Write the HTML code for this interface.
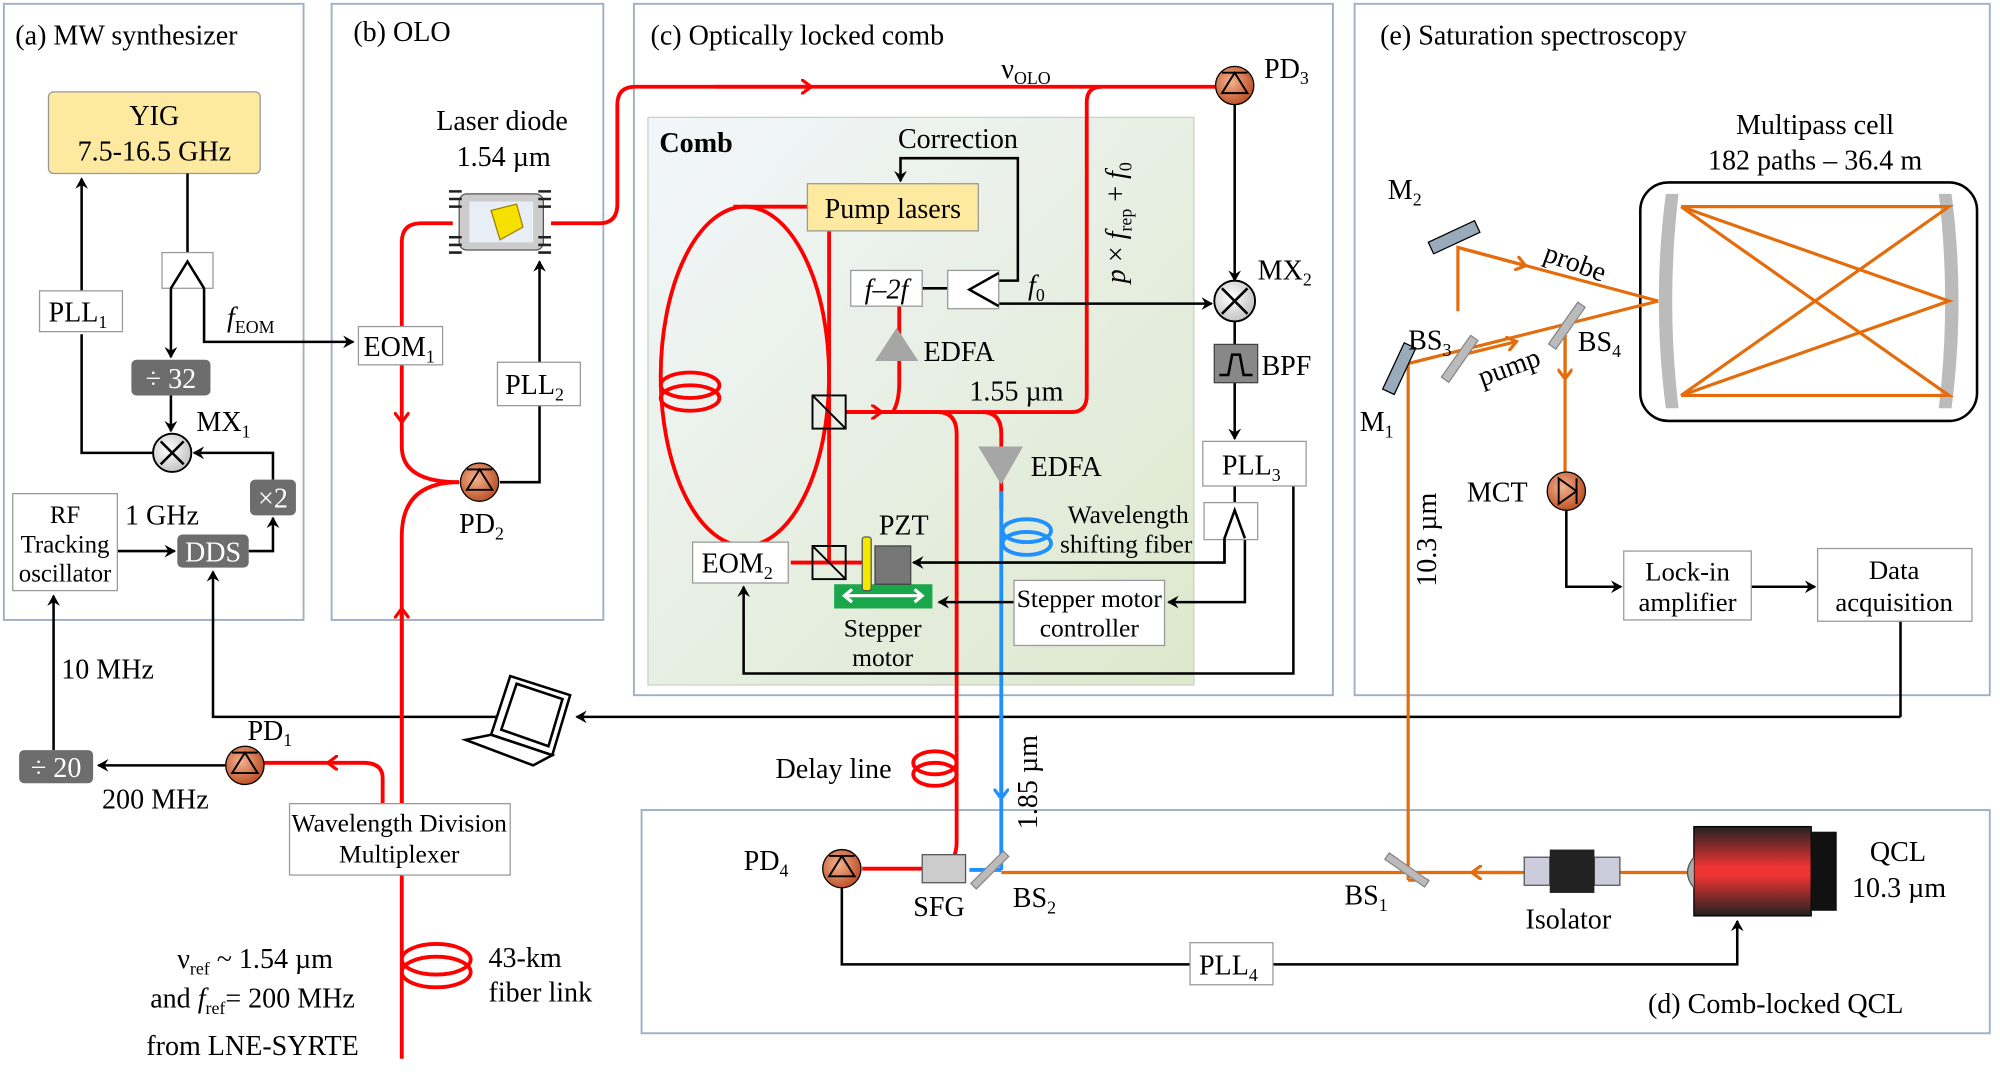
<!DOCTYPE html>
<html><head><meta charset="utf-8"><style>
html,body{margin:0;padding:0;background:#fff;}
svg{display:block;}
text{font-family:"Liberation Serif",serif;fill:#000;}
</style></head><body>
<svg width="2000" height="1083" viewBox="0 0 1568 849" preserveAspectRatio="none" xmlns="http://www.w3.org/2000/svg" font-size="22">
<defs>
<marker id="ab" markerWidth="10" markerHeight="10" refX="8" refY="5" orient="auto" markerUnits="userSpaceOnUse"><path d="M0,0 L9,5 L0,10 L3,5 z" fill="#000"/></marker>
<marker id="ar" markerWidth="14" markerHeight="12" refX="7" refY="6" orient="auto" markerUnits="userSpaceOnUse"><path d="M0,0 L8,6 L0,12" fill="none" stroke="#f00" stroke-width="2.5"/></marker>
<marker id="ao" markerWidth="14" markerHeight="12" refX="7" refY="6" orient="auto" markerUnits="userSpaceOnUse"><path d="M0,0 L8,6 L0,12" fill="none" stroke="#e46c0a" stroke-width="2.5"/></marker>
<marker id="abl" markerWidth="14" markerHeight="12" refX="7" refY="6" orient="auto" markerUnits="userSpaceOnUse"><path d="M0,0 L8,6 L0,12" fill="none" stroke="#1e90ff" stroke-width="2.5"/></marker>
<linearGradient id="cg" x1="0" y1="0" x2="1" y2="1"><stop offset="0" stop-color="#f2f6fb"/><stop offset="1" stop-color="#dde8cc"/></linearGradient>
<radialGradient id="pd" cx="0.4" cy="0.4" r="0.7"><stop offset="0" stop-color="#f3b38f"/><stop offset="1" stop-color="#b5441a"/></radialGradient>
<radialGradient id="mx" cx="0.4" cy="0.4" r="0.7"><stop offset="0" stop-color="#fff"/><stop offset="1" stop-color="#bbb"/></radialGradient>
<linearGradient id="qcl" x1="0" y1="0" x2="0" y2="1"><stop offset="0" stop-color="#222"/><stop offset="0.45" stop-color="#e33"/><stop offset="0.55" stop-color="#e33"/><stop offset="1" stop-color="#222"/></linearGradient>
</defs>

<g fill="none" stroke="#9fb0c6" stroke-width="1.5">
<rect x="3" y="3" width="235" height="483"/>
<rect x="260" y="3" width="213" height="483"/>
<rect x="497" y="3" width="548" height="542"/>
<rect x="1062" y="3" width="498" height="542"/>
<rect x="503" y="635" width="1057" height="175"/>
</g>
<rect x="508" y="92" width="428" height="445" fill="url(#cg)" stroke="#c8d4c0"/>

<text x="12" y="35">(a) MW synthesizer</text>
<text x="277" y="32">(b) OLO</text>
<text x="510" y="35">(c) Optically locked comb</text>
<text x="1082" y="35">(e) Saturation spectroscopy</text>
<text x="1292" y="794">(d) Comb-locked QCL</text>
<text x="517" y="119" style="font-weight:bold">Comb</text>

<!-- (a) -->
<rect x="38" y="72" width="166" height="64" rx="4" fill="#fde9a0" stroke="#999"/>
<text x="121" y="98" text-anchor="middle">YIG</text>
<text x="121" y="126" text-anchor="middle">7.5-16.5 GHz</text>
<g stroke="#000" stroke-width="2" fill="none">
<line x1="147" y1="136" x2="147" y2="200"/>
<rect x="127" y="198" width="40" height="28" fill="#fff" stroke="#999" stroke-width="1"/>
<path d="M134,226 L147,205 L160,226"/>
<line x1="134" y1="226" x2="134" y2="280" marker-end="url(#ab)"/>
<path d="M160,226 L160,268 L277,268" marker-end="url(#ab)"/>
<line x1="134" y1="310" x2="134" y2="338" marker-end="url(#ab)"/>
<path d="M120,355 L64,355 L64,262"/>
<line x1="64" y1="228" x2="64" y2="140" marker-end="url(#ab)"/>
<path d="M214,376 L214,355 L152,355" marker-end="url(#ab)"/>
<line x1="92" y1="432" x2="137" y2="432" marker-end="url(#ab)"/>
<path d="M195,432 L214,432 L214,406" marker-end="url(#ab)"/>
<line x1="42" y1="588" x2="42" y2="467" marker-end="url(#ab)"/>
<line x1="185" y1="600" x2="77" y2="600" marker-end="url(#ab)"/>
<path d="M420,562 L167,562 L167,448" marker-end="url(#ab)"/>
</g>
<rect x="31" y="228" width="65" height="32" fill="#fff" stroke="#999"/>
<text x="38" y="252">PLL<tspan font-size="14" dy="5">1</tspan></text>
<rect x="103" y="282" width="62" height="28" rx="4" fill="#6d6d6d"/>
<text x="134" y="304" text-anchor="middle" style="fill:#fff">÷ 32</text>
<circle cx="135" cy="355" r="15" fill="url(#mx)" stroke="#000" stroke-width="1.5"/>
<path d="M126,346 L144,364 M144,346 L126,364" stroke="#000" stroke-width="2"/>
<text x="154" y="338">MX<tspan font-size="14" dy="5">1</tspan></text>
<rect x="196" y="376" width="36" height="28" rx="4" fill="#6d6d6d"/>
<text x="214" y="398" text-anchor="middle" style="fill:#fff">×2</text>
<rect x="10" y="387" width="82" height="76" fill="#fff" stroke="#999"/>
<text x="51" y="410" text-anchor="middle" font-size="19.5">RF</text>
<text x="51" y="433" text-anchor="middle" font-size="19.5">Tracking</text>
<text x="51" y="456" text-anchor="middle" font-size="19.5">oscillator</text>
<rect x="139" y="419" width="56" height="26" rx="4" fill="#6d6d6d"/>
<text x="167" y="440" text-anchor="middle" style="fill:#fff">DDS</text>
<text x="98" y="411">1 GHz</text>
<text x="178" y="256" font-style="italic">f<tspan font-size="14" dy="5" font-style="normal">EOM</tspan></text>
<text x="48" y="532">10 MHz</text>
<rect x="15" y="588" width="58" height="26" rx="4" fill="#6d6d6d"/>
<text x="44" y="609" text-anchor="middle" style="fill:#fff">÷ 20</text>
<text x="80" y="634">200 MHz</text>

<!-- (b) -->
<g stroke="#f00" stroke-width="3" fill="none">
<line x1="315" y1="830" x2="315" y2="478" marker-end="url(#ar)"/>
<path d="M315,630 L315,420 Q315,378 360,378"/>
<path d="M355,175 L330,175 Q315,175 315,190 L315,330" marker-end="url(#ar)"/>
<path d="M315,330 L315,350 Q315,378 360,378"/>
<path d="M432,175 L470,175 Q484,175 484,160 L484,82 Q484,68 498,68 L960,68"/>
<line x1="560" y1="68" x2="635" y2="68" marker-end="url(#ar)"/>
<path d="M300,630 L300,610 Q300,598 285,598 L258,598" marker-end="url(#ar)"/>
<line x1="258" y1="598" x2="205" y2="598"/>
</g>
<g stroke="#000" stroke-width="2" fill="none">
<path d="M392,378 L423,378 L423,318"/>
<line x1="423" y1="284" x2="423" y2="205" marker-end="url(#ab)"/>
</g>
<rect x="281" y="256" width="66" height="30" fill="#fff" stroke="#999"/>
<text x="285" y="279">EOM<tspan font-size="14" dy="5">1</tspan></text>
<rect x="390" y="284" width="65" height="34" fill="#fff" stroke="#999"/>
<text x="396" y="309">PLL<tspan font-size="14" dy="5">2</tspan></text>
<text x="342" y="102">Laser diode</text>
<text x="358" y="130">1.54 µm</text>
<rect x="360" y="152" width="66" height="44" rx="6" fill="#ccc" stroke="#555"/>
<rect x="368" y="158" width="50" height="32" fill="#e8eef5"/>
<polygon points="385,165 405,160 410,178 392,188" fill="#f5e000" stroke="#a08000"/>
<g stroke="#222" stroke-width="2">
<path d="M352,150h10M352,156h10M352,162h10M422,150h10M422,156h10M422,162h10M352,186h10M352,192h10M352,198h10M422,186h10M422,192h10M422,198h10"/>
</g>
<circle cx="376" cy="378" r="15" fill="url(#pd)" stroke="#000"/>
<path d="M366,384 L376,368 L386,384 Z M366,368 L386,368" stroke="#000" fill="none" stroke-width="1.5"/>
<text x="360" y="418">PD<tspan font-size="14" dy="5">2</tspan></text>

<circle cx="192" cy="600" r="15" fill="url(#pd)" stroke="#000"/>
<path d="M182,606 L192,590 L202,606 Z M182,590 L202,590" stroke="#000" fill="none" stroke-width="1.5"/>
<text x="194" y="580">PD<tspan font-size="14" dy="5">1</tspan></text>
<rect x="227" y="630" width="173" height="56" fill="#fff" stroke="#999"/>
<text x="313" y="652" text-anchor="middle" font-size="20">Wavelength Division</text>
<text x="313" y="676" text-anchor="middle" font-size="20">Multiplexer</text>
<g fill="none" stroke="#f00" stroke-width="3">
<ellipse cx="342" cy="752" rx="27" ry="12"/><ellipse cx="342" cy="762" rx="27" ry="12"/>
</g>
<text x="383" y="758">43-km</text>
<text x="383" y="785">fiber link</text>
<text x="200" y="759" text-anchor="middle">ν<tspan font-size="14" dy="5">ref</tspan><tspan dy="-5"> ~ 1.54 µm</tspan></text>
<text x="198" y="790" text-anchor="middle">and <tspan font-style="italic">f</tspan><tspan font-size="14" dy="5">ref</tspan><tspan dy="-5">= 200 MHz</tspan></text>
<text x="198" y="827" text-anchor="middle">from LNE-SYRTE</text>

<!-- laptop -->
<g stroke="#000" stroke-width="2" fill="#fff">
<polygon points="400,530 447,545 433,592 385,576"/>
<polygon points="405,536 441,548 430,585 393,572"/>
<polygon points="385,576 433,592 418,600 365,580"/>
</g>
<line x1="1490" y1="487" x2="1490" y2="562" stroke="#000" stroke-width="2"/>
<line x1="1490" y1="562" x2="452" y2="562" stroke="#000" stroke-width="2" marker-end="url(#ab)"/>

<!-- (c) -->
<text x="785" y="61">ν<tspan font-size="14" dy="5">OLO</tspan></text>
<g stroke="#f00" stroke-width="3" fill="none">
<path d="M633,162 L575,162"/>
<ellipse cx="584" cy="295" rx="66" ry="133"/>
<path d="M650,160 L650,440 M620,441 L680,441"/>
<path d="M663,323 L735,323 Q750,323 750,340 L750,590"/>
<path d="M750,590 L750,660 Q750,681 730,681 L676,681"/>
<path d="M700,323 Q705,315 705,300 L705,240"/>
<path d="M663,323 L840,323 Q852,323 852,310 L852,80 Q852,68 864,68"/>
<path d="M770,323 Q785,323 785,340 L785,400"/>
<line x1="664" y1="323" x2="690" y2="323" marker-end="url(#ar)"/>
</g>
<g fill="none" stroke="#f00" stroke-width="3">
<ellipse cx="541" cy="302" rx="23" ry="10"/><ellipse cx="541" cy="312" rx="23" ry="10"/>
<ellipse cx="733" cy="598" rx="17" ry="9"/><ellipse cx="733" cy="607" rx="17" ry="9"/>
</g>
<g stroke="#1e90ff" stroke-width="3" fill="none">
<line x1="785" y1="385" x2="785" y2="682"/>
<ellipse cx="805" cy="416" rx="19" ry="9"/><ellipse cx="805" cy="426" rx="19" ry="9"/>
<line x1="785" y1="560" x2="785" y2="625" marker-end="url(#abl)"/>
<line x1="760" y1="682" x2="785" y2="682"/>
</g>
<rect x="633" y="144" width="134" height="37" fill="#fde9a0" stroke="#999"/>
<text x="700" y="171" text-anchor="middle">Pump lasers</text>
<text x="704" y="116">Correction</text>
<g stroke="#000" stroke-width="2" fill="none">
<path d="M783,220 L798,220 L798,124 L706,124 L706,142" marker-end="url(#ab)"/>
<line x1="723" y1="226" x2="757" y2="226"/>
<line x1="783" y1="238" x2="950" y2="238" marker-end="url(#ab)"/>
<line x1="968" y1="82" x2="968" y2="220" marker-end="url(#ab)"/>
<line x1="968" y1="252" x2="968" y2="270"/>
<line x1="968" y1="300" x2="968" y2="344" marker-end="url(#ab)"/>
<path d="M968,381 L968,395"/>
<path d="M960,422 L960,441 L716,441" marker-end="url(#ab)"/>
<path d="M976,422 L976,472 L916,472" marker-end="url(#ab)"/>
<path d="M795,472 L736,472" marker-end="url(#ab)"/>
<path d="M1014,381 L1014,528 L583,528 L583,460" marker-end="url(#ab)"/>
</g>
<rect x="743" y="212" width="40" height="30" fill="#fff" stroke="#999"/>
<path d="M783,214 L760,227 L783,240" stroke="#000" stroke-width="2" fill="none"/>
<rect x="667" y="212" width="56" height="28" fill="#fff" stroke="#999"/>
<text x="695" y="234" text-anchor="middle" font-style="italic">f–2f</text>
<text x="806" y="231" font-style="italic">f<tspan font-size="14" dy="5" font-style="normal">0</tspan></text>
<polygon points="686,283 703,257 720,283" fill="#a6a6a6"/>
<text x="724" y="283">EDFA</text>
<text x="760" y="314">1.55 µm</text>
<polygon points="767,350 802,350 785,380" fill="#a6a6a6"/>
<text x="808" y="373">EDFA</text>
<text x="882" y="222" transform="rotate(-90 882 222)" font-style="italic">p<tspan font-style="normal"> × </tspan>f<tspan font-size="14" dy="5" font-style="normal">rep</tspan><tspan dy="-5" font-style="normal"> + </tspan>f<tspan font-size="14" dy="5" font-style="normal">0</tspan></text>
<rect x="637" y="310" width="26" height="26" fill="none" stroke="#000" stroke-width="1.5"/>
<line x1="637" y1="310" x2="663" y2="336" stroke="#000" stroke-width="1.5"/>
<rect x="637" y="428" width="26" height="26" fill="none" stroke="#000" stroke-width="1.5"/>
<line x1="637" y1="428" x2="663" y2="454" stroke="#000" stroke-width="1.5"/>
<rect x="543" y="425" width="75" height="32" fill="#fff" stroke="#999"/>
<text x="550" y="449">EOM<tspan font-size="14" dy="5">2</tspan></text>
<rect x="654" y="458" width="77" height="19" fill="#1aa64a"/>
<path d="M664,467 L721,467 M668,462 L662,467 L668,472 M717,462 L723,467 L717,472" stroke="#fff" stroke-width="2.5" fill="none"/>
<rect x="686" y="428" width="28" height="30" fill="#777" stroke="#444"/>
<rect x="676" y="421" width="7" height="42" rx="2" fill="#f5e800" stroke="#555"/>
<text x="689" y="419">PZT</text>
<text x="692" y="499" text-anchor="middle" font-size="20">Stepper</text>
<text x="692" y="522" text-anchor="middle" font-size="20">motor</text>
<text x="837" y="410" font-size="20">Wavelength</text>
<text x="831" y="433" font-size="20">shifting fiber</text>
<rect x="795" y="455" width="118" height="51" fill="#fff" stroke="#999"/>
<text x="854" y="476" text-anchor="middle" font-size="20">Stepper motor</text>
<text x="854" y="499" text-anchor="middle" font-size="20">controller</text>
<circle cx="968" cy="67" r="15" fill="url(#pd)" stroke="#000"/>
<path d="M958,73 L968,57 L978,73 Z M958,57 L978,57" stroke="#000" fill="none" stroke-width="1.5"/>
<text x="991" y="61">PD<tspan font-size="14" dy="5">3</tspan></text>
<circle cx="968" cy="236" r="16" fill="url(#mx)" stroke="#000" stroke-width="1.5"/>
<path d="M958,226 L978,246 M978,226 L958,246" stroke="#000" stroke-width="2"/>
<text x="986" y="219">MX<tspan font-size="14" dy="5">2</tspan></text>
<rect x="952" y="270" width="34" height="30" fill="#888" stroke="#444"/>
<path d="M956,294 L963,294 L966,278 L972,278 L975,294 L982,294" stroke="#000" fill="none" stroke-width="2"/>
<text x="989" y="294">BPF</text>
<rect x="943" y="346" width="81" height="35" fill="#fff" stroke="#999"/>
<text x="958" y="372">PLL<tspan font-size="14" dy="5">3</tspan></text>
<rect x="944" y="394" width="42" height="29" fill="#fff" stroke="#999"/>
<path d="M960,441 L960,422 L968,400 L976,422" stroke="#000" stroke-width="2" fill="none"/>
<text x="608" y="610">Delay line</text>

<!-- (e) -->
<rect x="1286" y="143" width="264" height="187" rx="22" fill="none" stroke="#000" stroke-width="2"/>
<path d="M1306,152 Q1295,236 1306,320 L1316,320 Q1306,236 1316,152 Z" fill="#bbb"/>
<path d="M1530,152 Q1541,236 1530,320 L1520,320 Q1530,236 1520,152 Z" fill="#bbb"/>
<text x="1423" y="105" text-anchor="middle">Multipass cell</text>
<text x="1423" y="133" text-anchor="middle">182 paths – 36.4 m</text>
<g stroke="#e46c0a" stroke-width="2.5" fill="none">
<path d="M1318,162 L1528,236 L1318,310 L1528,162 L1318,162 M1318,310 L1528,310 L1318,162"/>
<path d="M1104,690 L1120,690"/>
<path d="M1104,690 L1104,285 L1300,236"/>
<path d="M1143,244 L1143,194 L1300,236"/>
<line x1="1143" y1="194" x2="1195" y2="208" marker-end="url(#ao)"/>
<line x1="1143" y1="279" x2="1188" y2="268" marker-end="url(#ao)"/>
<line x1="1227" y1="255" x2="1227" y2="370"/>
<line x1="1227" y1="260" x2="1227" y2="296" marker-end="url(#ao)"/>
<line x1="1325" y1="684" x2="1270" y2="684"/>
<line x1="1195" y1="684" x2="785" y2="684"/>
<line x1="1190" y1="684" x2="1155" y2="684" marker-end="url(#ao)"/>
</g>
<rect x="1120" y="181" width="40" height="10" fill="#9ab" stroke="#000" transform="rotate(-25 1140 186)"/>
<rect x="1077" y="284" width="40" height="10" fill="#9ab" stroke="#000" transform="rotate(-65 1097 289)"/>
<rect x="1124" y="278" width="40" height="7" fill="#bbb" stroke="#888" transform="rotate(-55 1144 281)"/>
<rect x="1208" y="252" width="40" height="7" fill="#bbb" stroke="#888" transform="rotate(-55 1228 255)"/>
<text x="1088" y="156">M<tspan font-size="14" dy="5">2</tspan></text>
<text x="1066" y="338">M<tspan font-size="14" dy="5">1</tspan></text>
<text x="1104" y="274">BS<tspan font-size="14" dy="5">3</tspan></text>
<text x="1237" y="275">BS<tspan font-size="14" dy="5">4</tspan></text>
<text x="1209" y="204" transform="rotate(20 1209 204)">probe</text>
<text x="1162" y="303" transform="rotate(-20 1162 303)">pump</text>
<text x="1126" y="460" transform="rotate(-90 1126 460)">10.3 µm</text>
<circle cx="1228" cy="385" r="15" fill="url(#pd)" stroke="#000"/>
<path d="M1222,375 L1236,385 L1222,395 Z M1236,375 L1236,395" stroke="#000" fill="none" stroke-width="1.5"/>
<text x="1150" y="393">MCT</text>
<g stroke="#000" stroke-width="2" fill="none">
<path d="M1228,400 L1228,460 L1271,460" marker-end="url(#ab)"/>
<line x1="1373" y1="460" x2="1423" y2="460" marker-end="url(#ab)"/>
</g>
<rect x="1273" y="432" width="100" height="54" fill="#fff" stroke="#999"/>
<text x="1323" y="455" text-anchor="middle" font-size="21">Lock-in</text>
<text x="1323" y="479" text-anchor="middle" font-size="21">amplifier</text>
<rect x="1425" y="430" width="121" height="57" fill="#fff" stroke="#999"/>
<text x="1485" y="454" text-anchor="middle" font-size="21">Data</text>
<text x="1485" y="479" text-anchor="middle" font-size="21">acquisition</text>

<!-- (d) -->
<circle cx="660" cy="681" r="15" fill="url(#pd)" stroke="#000"/>
<path d="M650,687 L660,671 L670,687 Z M650,671 L670,671" stroke="#000" fill="none" stroke-width="1.5"/>
<text x="583" y="682">PD<tspan font-size="14" dy="5">4</tspan></text>
<rect x="723" y="670" width="34" height="22" fill="#ccc" stroke="#555"/>
<text x="716" y="718">SFG</text>
<rect x="758" y="679" width="36" height="6" fill="#bbb" stroke="#888" transform="rotate(-45 776 682)"/>
<text x="794" y="711">BS<tspan font-size="14" dy="5">2</tspan></text>
<rect x="1084" y="679" width="38" height="6" fill="#bbb" stroke="#888" transform="rotate(35 1103 682)"/>
<text x="1054" y="709">BS<tspan font-size="14" dy="5">1</tspan></text>
<rect x="1195" y="672" width="20" height="22" fill="#ccd" stroke="#555"/>
<rect x="1250" y="672" width="20" height="22" fill="#ccd" stroke="#555"/>
<rect x="1215" y="666" width="35" height="34" fill="#222"/>
<text x="1196" y="728">Isolator</text>
<rect x="1328" y="648" width="92" height="70" fill="url(#qcl)" stroke="#000"/>
<rect x="1420" y="652" width="20" height="62" fill="#111"/>
<path d="M1328,672 Q1318,684 1328,696" fill="#aaa" stroke="#555"/>
<text x="1466" y="675">QCL</text>
<text x="1452" y="703">10.3 µm</text>
<g stroke="#000" stroke-width="2" fill="none">
<path d="M660,696 L660,756 L933,756"/>
<path d="M998,756 L1362,756 L1362,722" marker-end="url(#ab)"/>
</g>
<rect x="933" y="739" width="65" height="33" fill="#fff" stroke="#999"/>
<text x="940" y="764">PLL<tspan font-size="14" dy="5">4</tspan></text>
<text x="813" y="650" transform="rotate(-90 813 650)">1.85 µm</text>
</svg>
</body></html>
